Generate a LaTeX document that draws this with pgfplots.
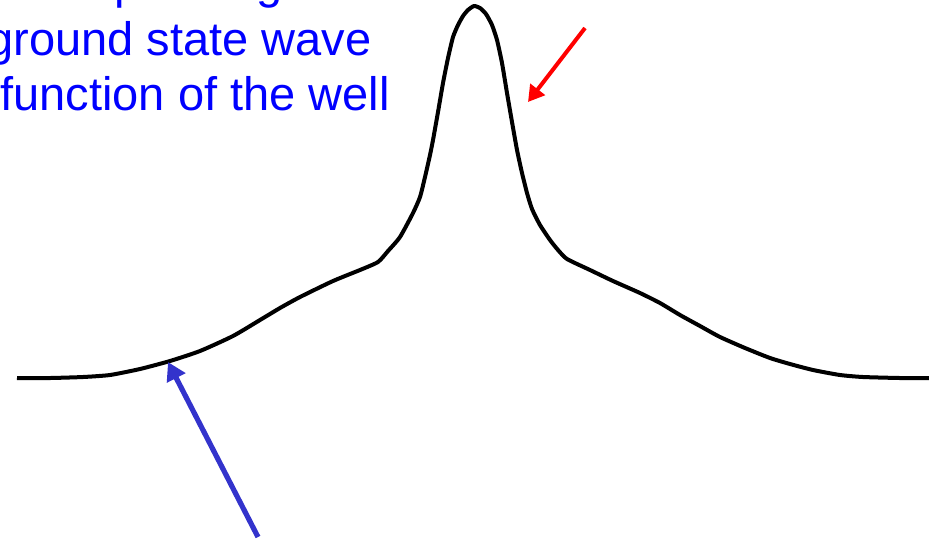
\documentclass[border=0pt]{standalone}
\usepackage{pgfplots}
\pgfplotsset{compat=1.18}
\usepackage{fontspec}
\setmainfont{Liberation Sans}
\usetikzlibrary{arrows.meta}
\definecolor{textblue}{RGB}{0,0,255}
\definecolor{arrowblue}{RGB}{51,51,204}
\definecolor{arrowred}{RGB}{255,0,0}

% wave function profile, x to the right, y measured downwards
\pgfplotstableread{
x y
17 378
50 378
83 377
110 375
140 369
170 361
200 351
233 336
260 320
280 308
300 297
333 281
360 270
378 262
388 251
400 237
413 213
420 197
425 177
430 155
433 140
438 112
443 83
448 58
453 37
458 25
463 16
468 10
474 6
480 8
486 14
492 25
497 40
502 63
507 93
512 122
517 150
522 173
527 193
532 209
540 225
550 240
558 250
567 259
590 270
613 281
640 293
660 303
680 315
700 326
720 337
745 348
770 358
790 364
813 370
840 375
863 377
900 378
929 378
}\wavefn

\begin{document}
\begin{tikzpicture}
\begin{axis}[
  scale only axis,
  width=464.5pt, height=271pt,
  xmin=0, xmax=929, ymin=0, ymax=542,
  y dir=reverse,
  axis lines=none,
  clip=false,
]
\coordinate (bl) at (axis cs:0,542);
\coordinate (tr) at (axis cs:929,0);

\addplot[black, line width=2pt, line join=round, smooth, tension=0.35]
  table[x=x, y=y] {\wavefn};

% arrows
\addplot[arrowred, line width=2pt, -{Triangle[length=8pt, width=9pt]}]
  coordinates {(585,28) (528,102)};
\addplot[arrowblue, line width=2.6pt, -{Triangle[length=9pt, width=10pt]}]
  coordinates {(258,537) (168,362)};

% text
\node[anchor=base west, inner sep=0pt, text=textblue,
      font=\fontsize{23.5}{28}\selectfont] at (axis cs:-16,-2) {corresponding};
\node[anchor=base west, inner sep=0pt, text=textblue,
      font=\fontsize{23.5}{28}\selectfont] at (axis cs:-13,55) {ground state wave};
\node[anchor=base west, inner sep=0pt, text=textblue,
      font=\fontsize{23.5}{28}\selectfont] at (axis cs:0,110) {function of the well};
\end{axis}
\pgfresetboundingbox
\useasboundingbox (bl) rectangle (tr);
\end{tikzpicture}
\end{document}
